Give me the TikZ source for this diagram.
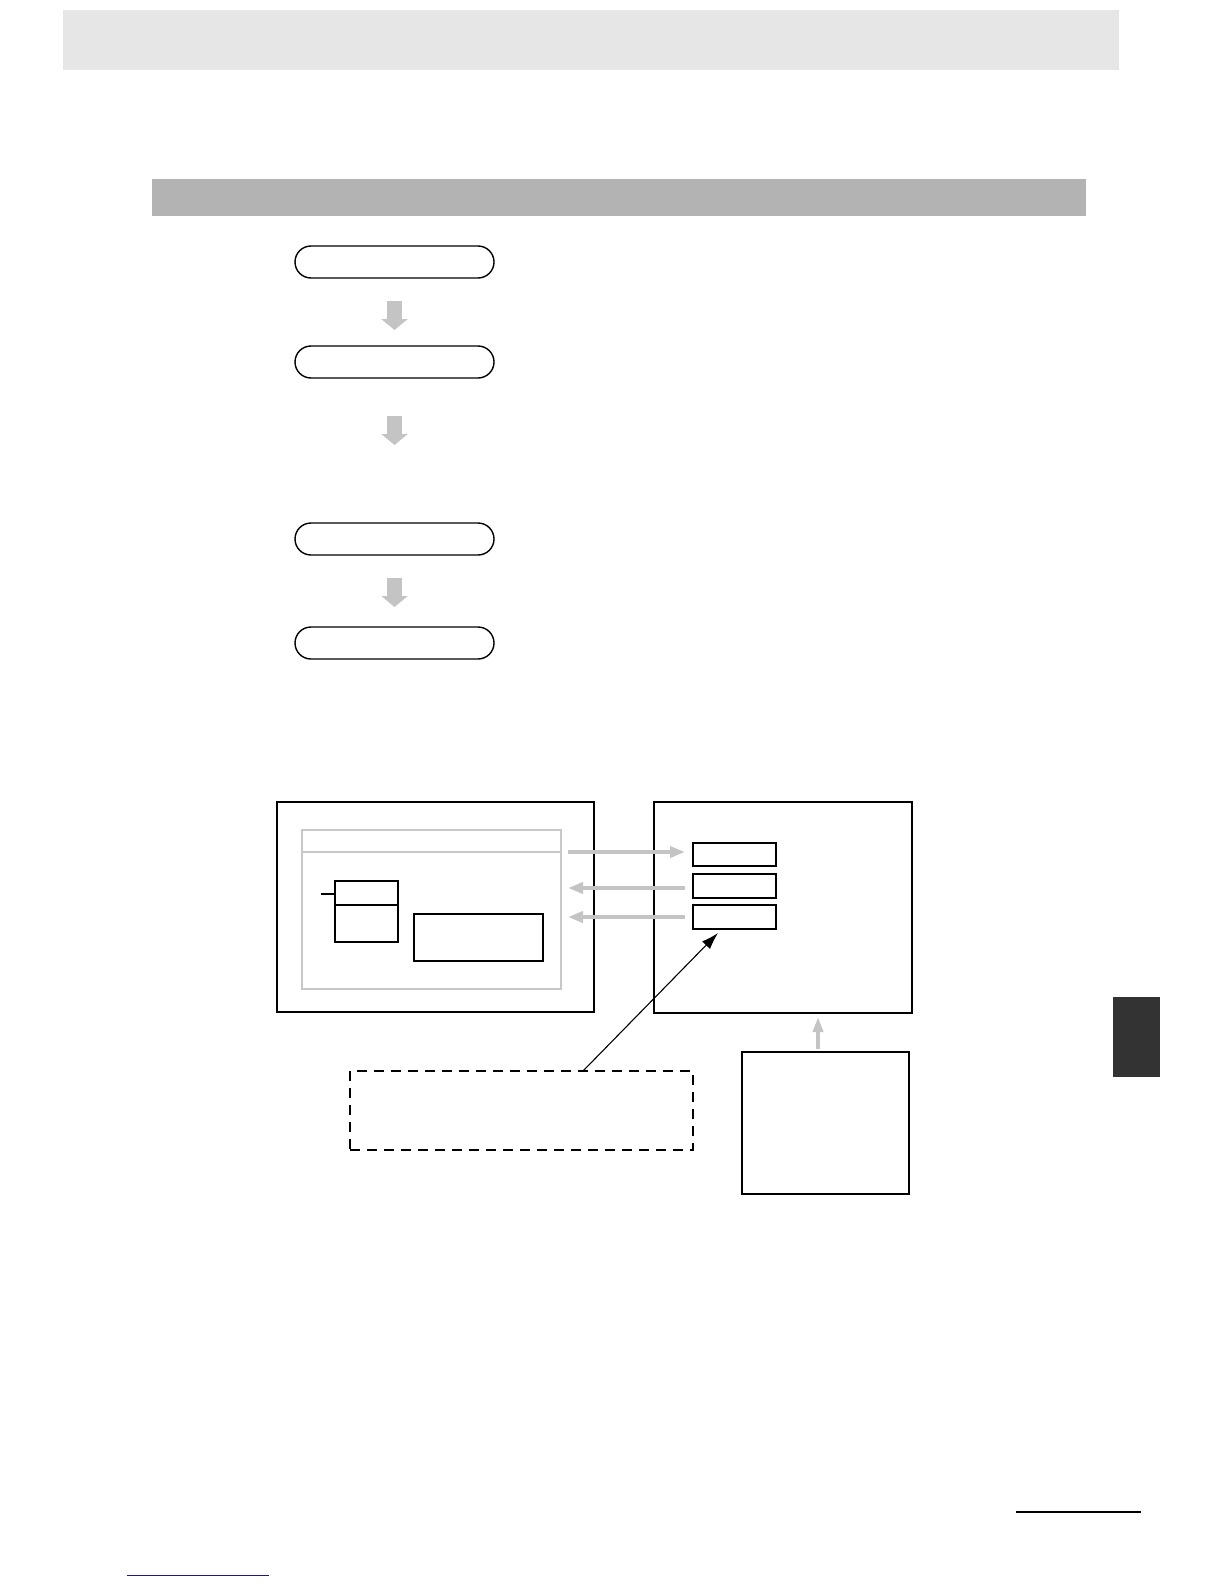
\documentclass[tikz,border=0pt]{standalone}
\usetikzlibrary{arrows.meta}
\definecolor{hdrgray}{HTML}{E6E6E6}
\definecolor{bandgray}{HTML}{B3B3B3}
\definecolor{arrgray}{HTML}{C4C4C4}
\definecolor{boxgray}{HTML}{C8C8C8}
\definecolor{tabgray}{HTML}{333333}
\definecolor{linkblue}{HTML}{1A1A8C}
\begin{document}
\begin{tikzpicture}[x=1pt,y=-1pt,
  pill/.style={draw=black,line width=1.4pt,rounded corners=16pt,minimum width=199pt,minimum height=32pt,inner sep=0pt,outer sep=0pt},
  box/.style={draw=black,line width=1.1pt,inner sep=0pt,outer sep=0pt},
  graybox/.style={draw=boxgray,line width=2.3pt,inner sep=0pt,outer sep=0pt},
  dashbox/.style={draw=black,line width=1.7pt,dash pattern=on 10pt off 7pt,inner sep=0pt,outer sep=0pt},
  flowarrow/.style={draw=arrgray,line width=15pt,-{Triangle[width=26pt,length=11pt]}},
  garrow/.style={draw=arrgray,line width=4.5pt,-{Triangle[width=11pt,length=15pt]}},
  blackarrow/.style={draw=black,line width=1.1pt,-{Latex[width=11pt,length=17pt]}}
]
\useasboundingbox (0,0) rectangle (1224,1584);
% header bands
\fill[hdrgray] (63,10) rectangle (1119,70);
\fill[bandgray] (152,179) rectangle (1086,216);
% flow
\node[pill] (p1) at (394.5,262) {};
\node[pill] (p2) at (394.5,362) {};
\node[pill] (p3) at (394.5,539) {};
\node[pill] (p4) at (394.5,643) {};
\draw[flowarrow] ([yshift=-23pt]p1.south) -- ([yshift=16pt]p2.north);
\draw[flowarrow] ([yshift=-38pt]p2.south) -- ([yshift=78pt]p3.north);
\draw[flowarrow] ([yshift=-23pt]p3.south) -- ([yshift=20pt]p4.north);
% left panel
\node[box,minimum width=317pt,minimum height=210pt] (L) at (435.5,907) {};
\node[graybox,minimum width=259pt,minimum height=159pt] (I) at (431.5,909.5) {};
\draw[boxgray,line width=2.3pt] ([yshift=-22pt]I.north west) -- ([yshift=-22pt]I.north east);
\node[box,minimum width=63pt,minimum height=61pt] (S) at (366.5,911.5) {};
\draw[black,line width=1.1pt] ([yshift=-24pt]S.north west) -- ([yshift=-24pt]S.north east);
\coordinate (tick) at (321,894);
\draw[black,line width=1.1pt] (tick) -- (tick -| S.west);
\node[box,minimum width=129pt,minimum height=47pt] (T) at (478.5,937.5) {};
% right panel
\node[box,minimum width=258pt,minimum height=211pt] (R) at (783,907.5) {};
\node[box,minimum width=83pt,minimum height=23pt] (r1) at (734.5,854.5) {};
\node[box,minimum width=83pt,minimum height=24pt] (r2) at (734.5,886) {};
\node[box,minimum width=83pt,minimum height=24pt] (r3) at (734.5,917) {};
\draw[garrow] ([xshift=7pt,yshift=2.5pt]I.east |- r1.west) -- ([xshift=-8pt,yshift=2.5pt]r1.west);
\draw[garrow] ([xshift=-8pt,yshift=-2pt]r2.west) -- ([xshift=7pt,yshift=-2pt]I.east |- r2.west);
\draw[garrow] ([xshift=-8pt]r3.west) -- ([xshift=7pt]I.east |- r3.west);
% bottom right box
\node[box,minimum width=167pt,minimum height=142pt] (B) at (825.5,1123) {};
\draw[draw=arrgray,line width=4pt,-{Triangle[width=10pt,length=15pt]}] ([xshift=-7.5pt,yshift=3pt]B.north) -- ([xshift=-7.5pt,yshift=-4pt]B.north |- R.south);
% dashed callout
\node[dashbox,minimum width=343pt,minimum height=79pt] (D) at (521.5,1110.5) {};
\draw[blackarrow] ([xshift=61.5pt]D.north) -- ([xshift=25pt,yshift=-4pt]r3.south west);
% side tab
\fill[tabgray] (1113,997) rectangle (1160,1077);
% footer lines
\draw[black,line width=2.2pt] (1016,1512) -- (1141,1512);
\draw[linkblue,line width=0.9pt] (127,1575) -- (269,1575);
\end{tikzpicture}
\end{document}
